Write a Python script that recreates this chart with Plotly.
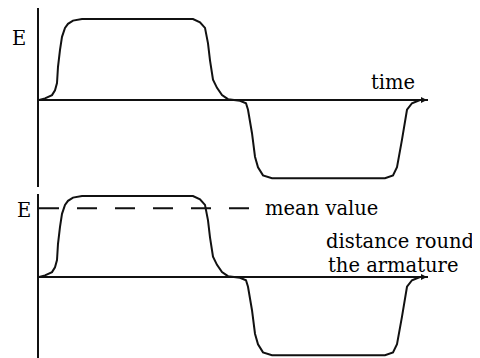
import plotly.graph_objects as go
from plotly.subplots import make_subplots

# waveform: position along the axis (t) and EMF (E, 1 = flat top)
t = [0, 6, 13, 16, 18, 19, 21, 23, 26, 29, 34, 43,
     154, 161, 166, 169, 171, 174, 178, 183, 189, 194,
     201, 207, 209, 213, 216, 219, 224, 233,
     346, 354, 358, 363, 368, 373, 381]
E = [0, 0.02, 0.06, 0.12, 0.21, 0.41, 0.62, 0.78, 0.89, 0.94, 0.98, 1.0,
     1.0, 0.96, 0.89, 0.70, 0.49, 0.25, 0.15, 0.06, 0.01, 0,
     -0.01, -0.04, -0.12, -0.41, -0.70, -0.83, -0.93, -0.965,
     -0.965, -0.93, -0.83, -0.49, -0.12, -0.04, 0]

mean_value = 0.85
mean_t = [0, 214]
t_end = 389

font = dict(family='DejaVu Serif', size=19.5, color='black')
lineCol = '#111111'

# the page body adds an 8px margin, so the figure is drawn 8px in from the window corner
W, H, OFF = 472, 350, 8


def px(x):
    return (x - OFF) / W


def py(y):
    return 1 - (y - OFF) / H


fig = make_subplots(rows=2, cols=1, vertical_spacing=0.02)

for row in (1, 2):
    fig.add_trace(
        go.Scatter(x=t, y=E, mode='lines', line=dict(color=lineCol, width=2),
                   showlegend=False, hoverinfo='skip'),
        row=row, col=1,
    )

# mean value line in the lower panel
fig.add_trace(
    go.Scatter(x=mean_t, y=[mean_value, mean_value], mode='lines',
               line=dict(color=lineCol, width=2, dash='20px,18px'),
               showlegend=False, hoverinfo='skip'),
    row=2, col=1,
)

axisStyle = dict(showgrid=False, showticklabels=False, ticks='')
yStyle = dict(showline=True, linecolor=lineCol, linewidth=2,
              zeroline=True, zerolinecolor=lineCol, zerolinewidth=2, **axisStyle)

fig.update_layout(
    width=W,
    height=H,
    margin=dict(l=0, r=0, t=0, b=0),
    paper_bgcolor='white',
    plot_bgcolor='white',
    xaxis=dict(domain=[px(39), px(428)], range=[0, t_end], zeroline=False, **axisStyle),
    xaxis2=dict(domain=[px(39), px(428)], range=[0, t_end], zeroline=False, **axisStyle),
    yaxis=dict(domain=[py(187), py(8)], range=[-87/81, 92/81], **yStyle),
    yaxis2=dict(domain=[py(358), py(194)], range=[-81/81, 83/81], **yStyle),
)

# small arrow heads at the end of the horizontal axes
for xr, yr in (('x', 'y'), ('x2', 'y2')):
    fig.add_annotation(x=t_end - 1, y=0, xref=xr, yref=yr, text='', showarrow=True,
                       ax=-8, ay=0, arrowhead=2, arrowsize=0.6, arrowwidth=2,
                       arrowcolor=lineCol)

labels = [
    ('E', 18.5, 38),
    ('time', 393, 82),
    ('E', 24, 210),
    ('mean value', 321, 208),
    ('distance round', 400, 241),
    ('the armature', 393, 265),
]
for text, x, y in labels:
    fig.add_annotation(x=px(x), y=py(y), xref='paper', yref='paper', text=text,
                       showarrow=False, xanchor='center', yanchor='middle', font=font)

fig.write_html("out.html")
